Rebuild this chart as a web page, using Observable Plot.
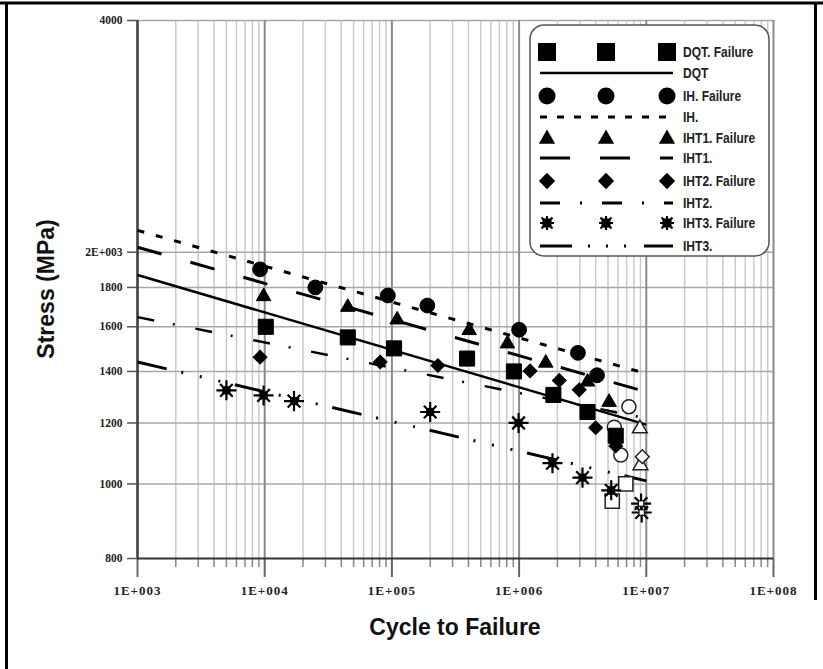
<!DOCTYPE html>
<html><head><meta charset="utf-8">
<script src="https://cdn.jsdelivr.net/npm/d3@7"></script>
<script src="https://cdn.jsdelivr.net/npm/@observablehq/plot@0.6"></script>
<style>
html,body{margin:0;padding:0;background:#fff;}
#chart{position:relative;width:823px;height:669px;overflow:hidden;}
</style></head><body><div id="chart"></div>
<script>
// ---- axes / ticks ----
const xMajor = [1e3, 1e4, 1e5, 1e6, 1e7, 1e8];
const xTickLabels = ["1E+003", "1E+004", "1E+005", "1E+006", "1E+007", "1E+008"];
const yTicks = [800, 1000, 1200, 1400, 1600, 1800, 2000, 4000];
const yTickLabels = ["800", "1000", "1200", "1400", "1600", "1800", "2E+003", "4000"];
const yGrid = [1000, 1200, 1400, 1600, 1800, 2000, 4000];
const xMinorMult = [2, 3, 4, 5, 6, 7, 8, 9];

// ---- series names ----
const seriesNames = ["DQT", "IH", "IHT1", "IHT2", "IHT3"];

// ---- failure points (filled markers) ----
const dqtFailN = [1.02e4, 4.5e4, 1.04e5, 3.9e5, 9.1e5, 1.86e6, 3.45e6, 5.75e6];
const dqtFailS = [1600, 1550, 1500, 1455, 1400, 1305, 1240, 1155];
const ihFailN = [9.2e3, 2.5e4, 9.3e4, 1.9e5, 1.0e6, 2.9e6, 4.1e6];
const ihFailS = [1900, 1800, 1757, 1705, 1586, 1480, 1384];
const iht1FailN = [9.8e3, 4.5e4, 1.1e5, 4.05e5, 8.1e5, 1.62e6, 3.45e6, 5.1e6];
const iht1FailS = [1752, 1697, 1634, 1583, 1521, 1436, 1357, 1277];
const iht2FailN = [9.2e3, 8.1e4, 2.3e5, 1.22e6, 2.07e6, 2.97e6, 4.0e6, 5.75e6];
const iht2FailS = [1461, 1440, 1425, 1402, 1363, 1325, 1183, 1120];
const iht3FailN = [5.0e3, 9.8e3, 1.7e4, 2.0e5, 9.9e5, 1.83e6, 3.15e6, 5.3e6];
const iht3FailS = [1323, 1303, 1281, 1240, 1200, 1064, 1019, 981];

// ---- run-outs (open markers) ----
const dqtRunN = [6.9e6, 5.4e6];
const dqtRunS = [1000, 950];
const ihRunN = [5.6e6, 7.3e6, 6.3e6];
const ihRunS = [1185, 1260, 1090];
const iht1RunN = [8.9e6, 9.0e6];
const iht1RunS = [1180, 1057];
const iht2RunN = [9.3e6];
const iht2RunS = [1085];
const iht3RunN = [9.1e6, 9.2e6];
const iht3RunS = [943, 918];

// ---- fitted S-N lines (end points) ----
const fitN = [1e3, 1e7];
const dqtFitS = [1868, 1194];
const ihFitS = [2135, 1391];
const iht1FitS = [2030, 1317];
const iht2FitS = [1647, 1217];
const iht3FitS = [1440, 1009];

// ---- legend labels ----
const legendLabels = ["DQT. Failure", "DQT", "IH. Failure", "IH.", "IHT1. Failure", "IHT1.", "IHT2. Failure", "IHT2.", "IHT3. Failure", "IHT3."];

const pts = (N, S) => N.map((n, i) => ({N: n, S: S[i]}));
const xMinor = xMajor.slice(0, -1).flatMap(d => xMinorMult.map(m => m * d));

const dashes = {
  DQT: null,
  IH: "7,12",
  IHT1: "25,30",
  IHT2: "17,19,2,21",
  IHT3: "30,15,2,17,2,17,2,15"
};

const fmtX = d => xTickLabels[xMajor.indexOf(d)];
const fmtY = d => yTickLabels[yTicks.indexOf(d)];
const serif = "Liberation Serif, Times New Roman, serif";
const sans = "Liberation Sans, Arial, sans-serif";

const fitLine = (S, key, w) => Plot.line(pts(fitN, S), {x: "N", y: "S", stroke: "black", strokeWidth: w, strokeDasharray: dashes[key] || undefined, strokeLinecap: "butt"});

const starMarks = (data, filled) => [
  Plot.dot(data, {x: "N", y: "S", symbol: "plus", r: 6.5, stroke: "black", strokeWidth: 2.2}),
  Plot.dot(data, {x: "N", y: "S", symbol: "times", r: 5.8, stroke: "black", strokeWidth: 2.2}),
  Plot.dot(data, {x: "N", y: "S", symbol: "square", r: filled ? 4 : 3, fill: filled ? "black" : "white", stroke: "black", strokeWidth: 1})
];

const openStyle = {fill: "white", stroke: "#222", strokeWidth: 1.5};
const fillStyle = {fill: "black", stroke: "black", strokeWidth: 1};

const plot = Plot.plot({
  width: 823, height: 669,
  marginLeft: 137, marginRight: 50, marginTop: 20, marginBottom: 111,
  x: {type: "log", domain: [1e3, 1e8], label: null},
  y: {type: "log", domain: [800, 4000], label: null},
  style: {background: "white", color: "black", overflow: "visible"},
  marks: [
    Plot.gridX(xMinor, {stroke: "#cacaca", strokeOpacity: 1, strokeWidth: 1.5}),
    Plot.gridY(yGrid, {stroke: "#a8a8a8", strokeOpacity: 1, strokeWidth: 1.5}),
    Plot.gridX(xMajor, {stroke: "#8a8a8a", strokeOpacity: 1, strokeWidth: 2}),
    Plot.axisX(xMinor, {tickSize: 9, tickFormat: () => "", stroke: "#888", strokeWidth: 1.5, label: null}),
    Plot.axisX(xMajor, {tickSize: 19, tickPadding: 8, tickFormat: fmtX, stroke: "#666", strokeWidth: 2, label: null,
      fontSize: 13, fontFamily: serif, fontWeight: "bold", fill: "#222"}),
    Plot.axisY(yTicks, {tickSize: 10, tickPadding: 5, tickFormat: fmtY, stroke: "#555", strokeWidth: 1.5, label: null,
      fontSize: 11.5, fontFamily: serif, fontWeight: "bold", fill: "#222"}),
    Plot.ruleY([800], {stroke: "#333", strokeWidth: 2}),
    Plot.ruleX([1e3], {stroke: "#444", strokeWidth: 2.5}),
    // fitted lines
    fitLine(dqtFitS, "DQT", 2.5),
    fitLine(ihFitS, "IH", 3),
    fitLine(iht1FitS, "IHT1", 3),
    fitLine(iht2FitS, "IHT2", 2.5),
    fitLine(iht3FitS, "IHT3", 3),
    // run-outs
    Plot.dot(pts(dqtRunN, dqtRunS), {x: "N", y: "S", symbol: "square", r: 8, ...openStyle}),
    Plot.dot(pts(ihRunN, ihRunS), {x: "N", y: "S", symbol: "circle", r: 7, ...openStyle}),
    Plot.dot(pts(iht1RunN, iht1RunS), {x: "N", y: "S", symbol: "triangle", r: 5.5, ...openStyle}),
    Plot.dot(pts(iht2RunN, iht2RunS), {x: "N", y: "S", symbol: "square", rotate: 45, r: 5.5, ...openStyle}),
    ...starMarks(pts(iht3RunN, iht3RunS), false),
    // failures
    Plot.dot(pts(dqtFailN, dqtFailS), {x: "N", y: "S", symbol: "square", r: 8.5, ...fillStyle}),
    Plot.dot(pts(ihFailN, ihFailS), {x: "N", y: "S", symbol: "circle", r: 7.4, ...fillStyle}),
    Plot.dot(pts(iht1FailN, iht1FailS), {x: "N", y: "S", symbol: "triangle", r: 5.4, ...fillStyle}),
    Plot.dot(pts(iht2FailN, iht2FailS), {x: "N", y: "S", symbol: "square", rotate: 45, r: 5.5, ...fillStyle}),
    ...starMarks(pts(iht3FailN, iht3FailS), true)
  ]
});

document.getElementById("chart").appendChild(plot);
const svg = d3.select(plot);

// letter spacing for x tick labels (wide look of the original)
svg.selectAll("g[aria-label='x-axis tick label'] text").attr("letter-spacing", 1);

// axis titles
svg.append("text").attr("x", 455).attr("y", 635).attr("text-anchor", "middle")
  .attr("font-family", sans).attr("font-weight", "bold")
  .attr("font-size", 23).attr("fill", "#111").text("Cycle to Failure");
svg.append("text").attr("transform", "translate(54,289) rotate(-90)").attr("text-anchor", "middle")
  .attr("font-family", sans).attr("font-weight", "bold")
  .attr("font-size", 23).attr("fill", "#111").text("Stress (MPa)");

// legend
const lg = svg.append("g").attr("text-anchor", "start");
lg.append("rect").attr("x", 530).attr("y", 25).attr("width", 239).attr("height", 231).attr("rx", 14)
  .attr("fill", "white").attr("stroke", "#555").attr("stroke-width", 1.5);
const symX = [547, 606, 667];
const rowY = [52, 73, 96, 117, 138, 158, 181, 203, 223, 246];
const symDefs = [
  {type: d3.symbolSquare, size: 18 * 18},
  {type: d3.symbolCircle, size: Math.PI * 8.5 * 8.5},
  {type: d3.symbolTriangle, size: 115},
  {type: d3.symbolSquare, size: 11.5 * 11.5, rotate: 45}
];
seriesNames.forEach((name, i) => {
  const yS = rowY[2 * i], yL = rowY[2 * i + 1];
  symX.forEach(x => {
    if (i < 4) {
      const d = symDefs[i];
      lg.append("path").attr("d", d3.symbol(d.type, d.size)())
        .attr("transform", `translate(${x},${yS + (i === 2 ? 1 : 0)}) rotate(${d.rotate || 0})`)
        .attr("fill", "black");
    } else {
      const g = lg.append("g").attr("transform", `translate(${x},${yS})`).attr("stroke", "black").attr("stroke-width", 2.2);
      g.append("path").attr("d", "M-7,0H7M0,-7V7M-5.5,-5.5L5.5,5.5M-5.5,5.5L5.5,-5.5");
      g.append("rect").attr("x", -4).attr("y", -4).attr("width", 8).attr("height", 8).attr("fill", "black").attr("stroke-width", 1);
    }
  });
  lg.append("line").attr("x1", 540).attr("x2", 673).attr("y1", yL).attr("y2", yL)
    .attr("stroke", "black").attr("stroke-width", i === 0 ? 2.5 : 3)
    .attr("stroke-dasharray", i === 0 ? null : (i === 1 ? "7,10" : i === 2 ? "30,30" : i === 3 ? "20,20,2,20" : "32,16,2,16,2,16,2,18"));
  [legendLabels[2 * i], legendLabels[2 * i + 1]].forEach((t, k) => {
    lg.append("text").attr("transform", `translate(683,${(k ? yL : yS) + 5}) scale(0.86,1)`)
      .attr("text-anchor", "start")
      .attr("font-family", sans).attr("font-weight", "bold")
      .attr("font-size", 14).attr("fill", "#222").text(t);
  });
});

// outer frame of the figure
svg.append("line").attr("x1", 0).attr("x2", 823).attr("y1", 3).attr("y2", 3).attr("stroke", "black").attr("stroke-width", 3);
svg.append("line").attr("x1", 6.5).attr("x2", 6.5).attr("y1", 2).attr("y2", 669).attr("stroke", "black").attr("stroke-width", 3);
svg.append("line").attr("x1", 815.5).attr("x2", 815.5).attr("y1", 2).attr("y2", 600).attr("stroke", "black").attr("stroke-width", 3);
</script></body></html>
